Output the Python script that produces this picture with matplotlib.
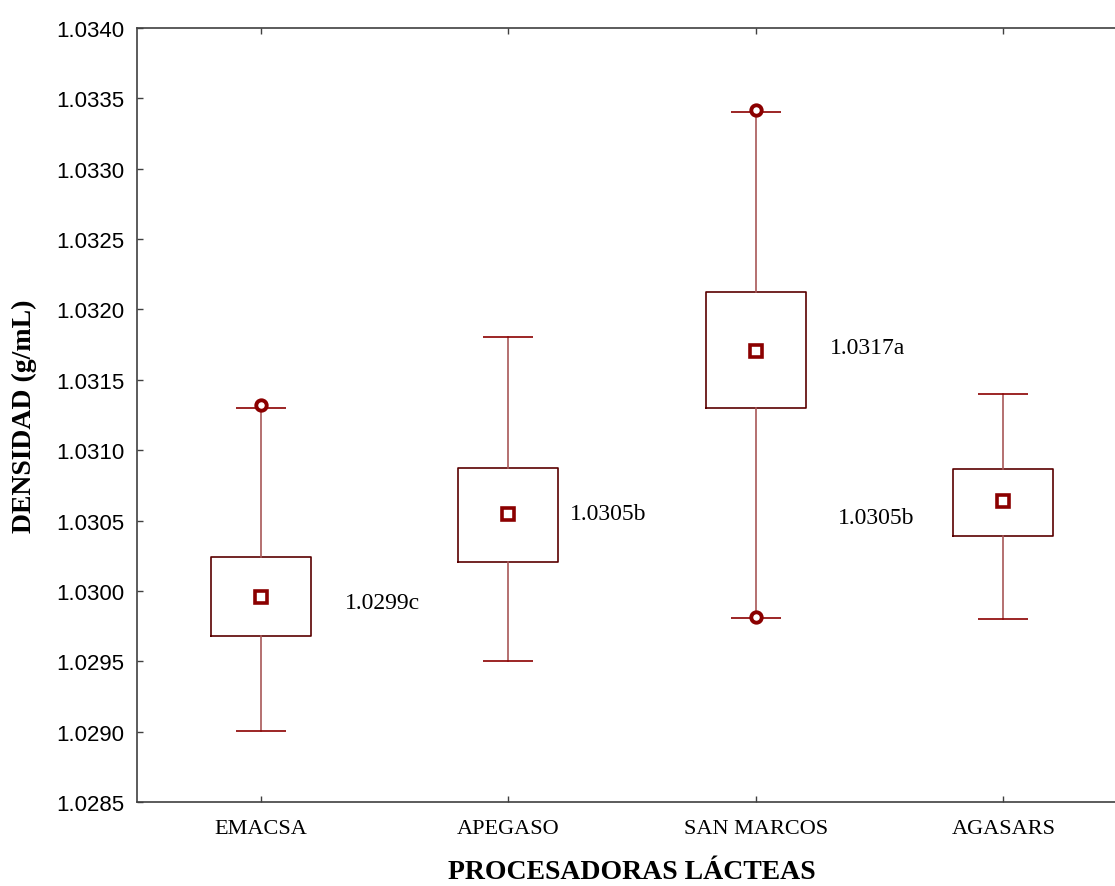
import matplotlib.pyplot as plt
import numpy as np

# values (g/mL)
groups  = ["EMACSA", "APEGASO", "SAN MARCOS", "AGASARS"]
means   = [1.029958, 1.030550, 1.031703, 1.030636]
box_hi  = [1.030238, 1.030870, 1.032126, 1.030865]
box_lo  = [1.029680, 1.030207, 1.031302, 1.030387]
whis_hi = [1.031299, 1.031801, 1.033401, 1.031398]
whis_lo = [1.029001, 1.029499, 1.029805, 1.029801]
outliers = [[1.031320], [], [1.033419, 1.029817], []]
labels  = ["1.0299c", "1.0305b", "1.0317a", "1.0305b"]
label_x = [0.34, 1.25, 2.30, 2.333]
label_y = [1.029920, 1.030550, 1.031728, 1.030520]

DARK = "#5a0000"
RED = "#8b0000"

fig = plt.figure(figsize=(11.15, 8.87), dpi=100)
ax = fig.add_axes([0.1229, 0.0947, 0.8879, 0.8726])

stats = []
for i in range(len(groups)):
    stats.append(dict(med=means[i], mean=means[i], q1=box_lo[i], q3=box_hi[i],
                      whislo=whis_lo[i], whishi=whis_hi[i],
                      fliers=np.array(outliers[i]), label=groups[i]))

ax.bxp(stats, positions=range(len(groups)), widths=0.405, showmeans=True,
       showfliers=True, manage_ticks=False,
       boxprops=dict(color=DARK, linewidth=1.2),
       whiskerprops=dict(color="#a85858", linewidth=1.2),
       capprops=dict(color=RED, linewidth=1.2, solid_capstyle="butt"),
       medianprops=dict(linewidth=0),
       meanprops=dict(marker="s", markersize=8, markerfacecolor="white",
                      markeredgecolor=RED, markeredgewidth=2.6),
       flierprops=dict(marker="o", markersize=7.5, markerfacecolor="white",
                       markeredgecolor=RED, markeredgewidth=2.8))

for x, y, t in zip(label_x, label_y, labels):
    ax.text(x, y, t, ha="left", va="center", fontsize=17,
            family="Liberation Serif", color="black")

ax.set_xlim(-0.5, 3.5)
ax.set_ylim(1.0285, 1.0340)
yt = np.arange(1.0285, 1.03401, 0.0005)
ax.set_yticks(yt)
ax.set_yticklabels([f"{v:.4f}" for v in yt], family="Liberation Sans", fontsize=16)
ax.set_xticks(range(len(groups)))
ax.set_xticklabels(groups, family="Liberation Serif", fontsize=16)
ax.tick_params(direction="in", top=True, right=True, length=4, width=1,
               color="#404040")
ax.tick_params(axis="y", pad=9)
ax.tick_params(axis="x", pad=12)
for s in ax.spines.values():
    s.set_color("#404040")
    s.set_linewidth(1.2)

ax.set_xlabel("PROCESADORAS LÁCTEAS", family="Liberation Serif",
              fontweight="bold", fontsize=20, labelpad=15)
ax.set_ylabel("DENSIDAD (g/mL)", family="Liberation Serif",
              fontweight="bold", fontsize=20, labelpad=14)

plt.savefig("out.png", dpi=100)
